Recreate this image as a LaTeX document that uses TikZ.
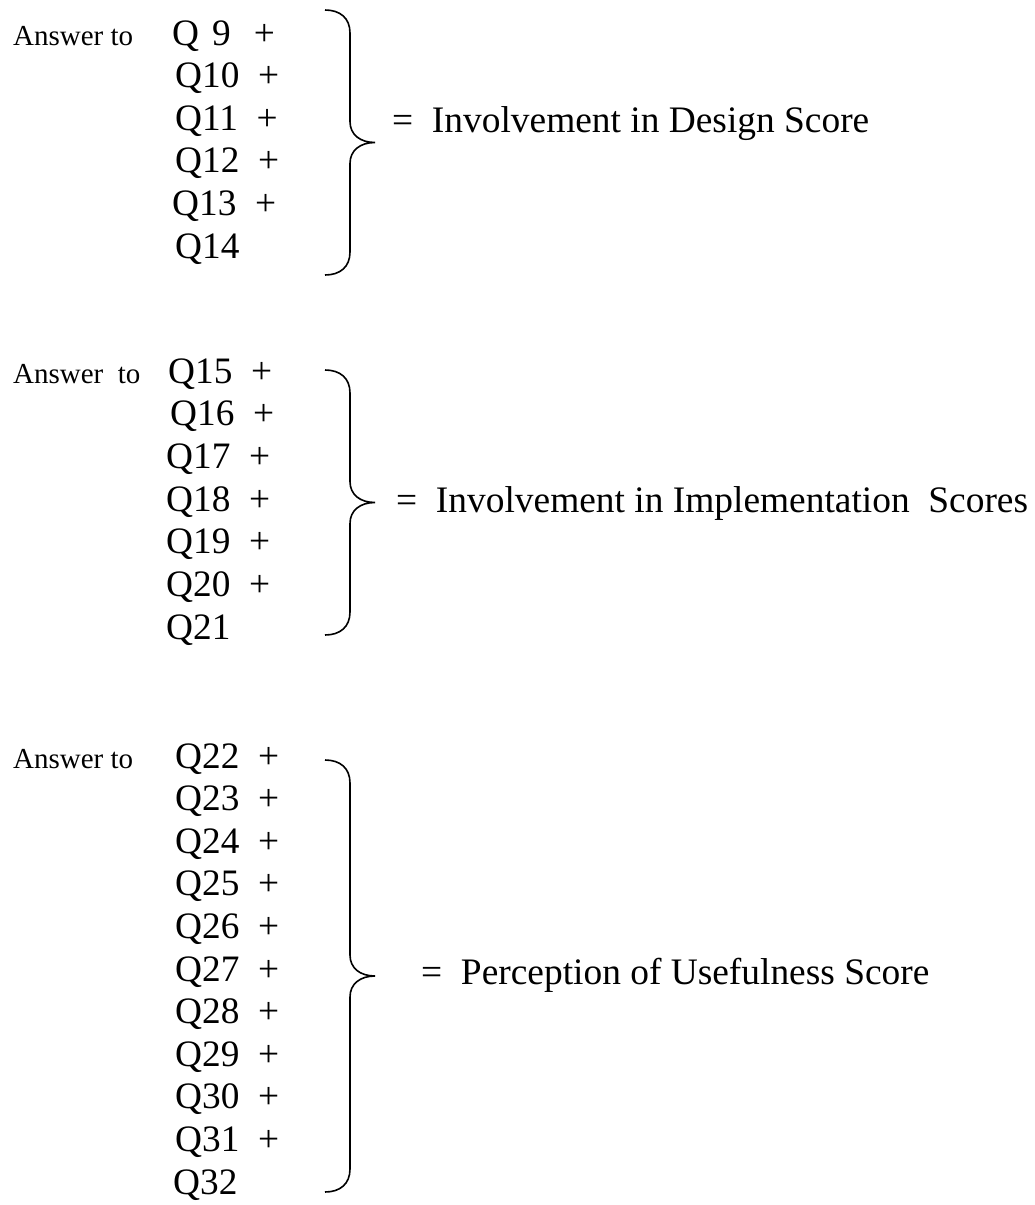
\documentclass[tikz,border=0pt]{standalone}
\usepackage{fontspec}
\setmainfont{Liberation Serif}
\usetikzlibrary{calc}

% curly brace opening to the right: top y, bottom y, name of the tip coordinate
\newcommand\scorebrace[3]{%
  \pgfmathsetmacro\bracemid{(#1+#2)/2}%
  \draw[bracestyle]
    (325,#1) .. controls (340,#1) and (350,#1+8) .. (350,#1+23)
    -- (350,\bracemid-21)
    .. controls (350,\bracemid-8) and (360,\bracemid) .. (375,\bracemid) coordinate (#3)
    .. controls (360,\bracemid) and (350,\bracemid+8) .. (350,\bracemid+21)
    -- (350,#2-23)
    .. controls (350,#2-8) and (340,#2) .. (325,#2);
}

\begin{document}
\begin{tikzpicture}[x=1pt,y=-1pt,
  bracestyle/.style={line width=1.6pt},
  qrow/.style={anchor=base west,inner sep=0pt,font=\fontsize{37.3}{44}\selectfont},
  lead/.style={anchor=base west,inner sep=0pt,font=\fontsize{29}{35}\selectfont},
  result/.style={anchor=base west,inner sep=0pt,font=\fontsize{37.4}{44}\selectfont}]
\useasboundingbox[fill=white] (0,0) rectangle (1035,1205);

% ---- design block ----
\node[lead] (lead1) at (13,45) {Answer to};
\node[qrow] (q9)  at (172,45)    {Q\hspace{13pt}9\hspace{23pt}+};
\node[qrow] (q10) at (175,87.6)  {Q10\ \ +};
\node[qrow] (q11) at (175,130.2) {Q11\ \ +};
\node[qrow] (q12) at (175,172.8) {Q12\ \ +};
\node[qrow] (q13) at (172,215.4) {Q13\ \ +};
\node[qrow] (q14) at (175,258)   {Q14};
\scorebrace{10}{275}{tip1}
\node[result] (design) at (392,132) {=\ \ Involvement in Design Score};

% ---- implementation block ----
\node[lead] (lead2) at (13,383) {Answer\ \ to};
\node[qrow] (q15) at (168,383)   {Q15\ \ +};
\node[qrow] (q16) at (170,425.7) {Q16\ \ +};
\node[qrow] (q17) at (166,468.4) {Q17\ \ +};
\node[qrow] (q18) at (166,511.1) {Q18\ \ +};
\node[qrow] (q19) at (166,553.8) {Q19\ \ +};
\node[qrow] (q20) at (166,596.5) {Q20\ \ +};
\node[qrow] (q21) at (166,639.2) {Q21};
\scorebrace{370}{635}{tip2}
\node[result] (implementation) at (396,512) {=\ \ Involvement in Implementation\ \ Scores};

% ---- usefulness block ----
\node[lead] (lead3) at (13,768) {Answer to};
\node[qrow] (q22) at (175,768)    {Q22\ \ +};
\node[qrow] (q23) at (175,810.6)  {Q23\ \ +};
\node[qrow] (q24) at (175,853.2)  {Q24\ \ +};
\node[qrow] (q25) at (175,895.8)  {Q25\ \ +};
\node[qrow] (q26) at (175,938.4)  {Q26\ \ +};
\node[qrow] (q27) at (175,981)    {Q27\ \ +};
\node[qrow] (q28) at (175,1023.6) {Q28\ \ +};
\node[qrow] (q29) at (175,1066.2) {Q29\ \ +};
\node[qrow] (q30) at (175,1108.8) {Q30\ \ +};
\node[qrow] (q31) at (175,1151.4) {Q31\ \ +};
\node[qrow] (q32) at (173,1194)   {Q32};
\scorebrace{760}{1192}{tip3}
\node[result] (usefulness) at (421,984) {=\ \ Perception of Usefulness Score};
\end{tikzpicture}
\end{document}
